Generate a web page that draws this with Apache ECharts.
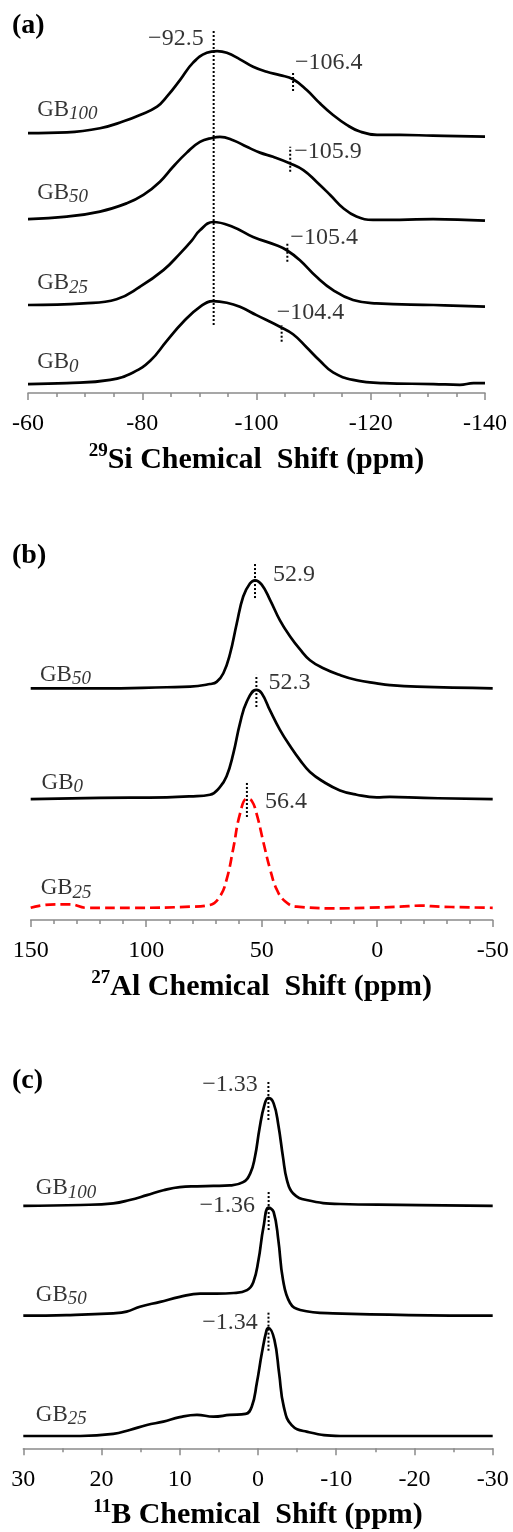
<!DOCTYPE html>
<html><head><meta charset="utf-8">
<script src="https://cdn.jsdelivr.net/npm/echarts/dist/echarts.min.js"></script>
<style>html,body{margin:0;padding:0;background:#fff}#c{width:513px;height:1532px}</style>
</head><body><div id="c"></div>
<script>
// ---------------- DATA ----------------
// Panel (a): 29Si MAS NMR, ppm and relative intensity (peak = 100)
const siGB100Ppm = [-60,-66.8,-72.6,-76.6,-79.6,-82.6,-84.3,-86.6,-88.9,-91.3,-93.1,-94.8,-97.1,-99.4,-101.8,-104.1,-106.4,-108.8,-111.1,-113.4,-115.8,-118.1,-121.1,-125.1,-130.9,-140];
const siGB100Int = [1,2,7,15,23,33,45,65,86,98,100,98,90,81,75,71,66,53,37,23,11,3,-1,-1,-2,-3];
const siGB50Ppm = [-60,-66.8,-72.6,-77.3,-80.2,-83.1,-85.4,-87.8,-90.1,-92.4,-93.6,-95.9,-98.3,-100.6,-102.9,-105.9,-108.2,-110.5,-112.9,-115.2,-117.5,-120.4,-125.1,-130.9,-140];
const siGB50Int = [0,3,9,19,29,45,63,80,93,98,99,95,87,80,75,67,59,45,29,13,3,-1,-1,0,-2];
const siGB25Ppm = [-60,-69.7,-75.5,-79.6,-83.7,-86.6,-88.7,-90.1,-92.4,-95.9,-99.4,-103.5,-105.3,-107.6,-110.5,-113.4,-116.9,-121.0,-131.0,-140];
const siGB25Int = [0,2,7,22,42,62,78,90,100,94,82,72,66,54,34,18,6,2,0,-2];
const siGB0Ppm = [-60,-66.8,-74.4,-78.4,-81.4,-84.3,-87.2,-90.1,-92.4,-94.8,-97.1,-100.0,-104.1,-106.4,-108.8,-111.1,-113.4,-116.9,-122.2,-131.0,-135.6,-138.0,-140];
const siGB0Int = [0,1,5,14,28,52,75,93,100,98,93,83,69,60,44,28,14,5,1,0,-1,1,1];
const siPeakMain = -92.5;
const siShoulders = [-106.4, -105.9, -105.4, -104.4]; // GB100, GB50, GB25, GB0

// Panel (b): 27Al
const alGB50Ppm = [150,120,91.1,81.0,72.4,69.5,66.6,63.7,60.8,58.0,55.1,52.9,50.0,46.4,42.1,37.7,33.4,29.1,23.3,16.1,8.9,0.2,-5.5,-17.1,-50];
const alGB50Int = [0,0,1,1.5,4,6,14,32,60,85,97,100,96,82,63,48,36,26,18.6,12.3,7.7,4.6,3,1.5,0];
const alGB0Ppm = [150,120,91.1,81.0,72.4,68.1,65.2,62.3,59.4,56.5,52.3,50.0,46.4,42.1,37.7,33.4,29.1,23.3,16.1,8.9,0.2,-5.5,-20,-50];
const alGB0Int = [-1,0,0.6,1.5,3,10,20,41,69,89,100,97,81,63,48,35,24,15,7,3,0.6,1,0,-1];
const alGB25Ppm = [150,141.6,133,125.8,105.6,81.0,72.4,68.1,65.2,62.3,59.4,56.4,54.3,52.2,49.3,46.4,43.5,39.9,34.8,16.1,4.5,-9.9,-18.6,-27.2,-50];
const alGB25Int = [-1,2,2.2,-1,-1,0,1.6,9.5,25,54,86,100,98,86,60,35,16,5,0,-1.5,-1,0,1,0,-1];
const alPeaks = [52.9, 52.3, 56.4]; // GB50, GB0, GB25

// Panel (c): 11B
const bGB100Ppm = [30,22.7,18.5,16.4,14.2,12.1,10.0,7.8,5.7,3.6,1.9,1.0,0.4,-0.2,-0.8,-1.33,-2.0,-2.6,-3.2,-3.7,-4.5,-6.2,-10.5,-18.1,-30];
const bGB100Int = [0,0.9,2.4,5.5,10,14.5,17.5,18.2,18.5,19,22,30,45,72,93,100,95,75,45,24,11.5,5.5,1.8,1,0];
const bGB50Ppm = [30,24.5,18.5,16.8,15.1,12.5,10.0,7.4,5.3,3.1,1.4,0.6,-0.05,-0.7,-1.36,-2.0,-2.6,-3.2,-4.1,-5.4,-9.6,-30];
const bGB50Int = [0,0.6,2.2,3.7,8.3,12.8,17.4,20.5,20.5,21,23.7,31,51,82,100,96,70,33,11.7,5.3,2.2,0];
const bGB25Ppm = [30,22.7,18.5,16.4,14.2,12.1,10.0,7.8,5.7,3.6,1.6,0.8,0.15,-0.5,-1.1,-1.34,-2.1,-2.7,-3.3,-4.3,-6.2,-10.5,-30];
const bGB25Int = [0,0,1.9,5.6,10.2,13.3,17.4,19.5,17.9,19.5,20.4,27,49,77,98,100,89,58,27,10,4,0,0];
const bPeaks = [-1.33, -1.36, -1.34]; // GB100, GB50, GB25

// ---------------- LAYOUT ----------------
const FONT = "'Liberation Serif','Times New Roman',Times,serif";
const AXIS_GREY = '#8a8a8a';
const fmtNum = (v, d) => (v < 0 ? '\u2212' : '') + Math.abs(v).toFixed(d);

function spec(g, ppm, inten, off, color, type) {
  return {type:'line', xAxisIndex:g, yAxisIndex:g, data: ppm.map((p,i)=>[p, inten[i]+off]),
    symbol:'none', showSymbol:false, smooth:0.45, silent:true, z:3,
    lineStyle:{color:color||'#000', width:2.7, type:type||'solid', join:'round'}};
}
function dotted(g, x, y1, y2) {
  return {type:'line', xAxisIndex:g, yAxisIndex:g, data:[[x,y1],[x,y2]], symbol:'none', silent:true, z:4,
    lineStyle:{color:'#000', width:2, type:[2,2]}};
}
function texts(g, items) {
  return {type:'scatter', xAxisIndex:g, yAxisIndex:g, symbolSize:0, silent:true, z:5,
    data: items.map(it => ({value:[it.x, it.y], label:{show:true, formatter:it.t, position:it.pos||'right',
      distance:it.d||0, offset:it.off||[0,0], fontSize:24, fontFamily:FONT, color:'#000',
      rich:{m:{fontSize:23, fontFamily:FONT, color:'#000', lineHeight:28},
            s:{fontSize:19, fontFamily:FONT, fontStyle:'italic', color:'#000', lineHeight:18, verticalAlign:'bottom'}}}}))};
}
const gb = n => '{m|GB}{s|' + n + '}';

// offsets (stacking) in intensity units
const offA = {GB100:312, GB50:209.6, GB25:106, GB0:10.8};
const offB = {GB50:214.5, GB0:113, GB25:12.3};
const offC = {GB100:224.4, GB50:122.8, GB25:11.4};

function xAxisDef(g, min, max, interval, minorSplit, nameLabel, sup) {
  return {gridIndex:g, type:'value', inverse:true, min:min, max:max, interval:interval,
    axisLine:{show:true, onZero:false, lineStyle:{color:AXIS_GREY, width:1.5}},
    axisTick:{show:true, length:7, lineStyle:{color:AXIS_GREY, width:1.5}},
    minorTick:{show:true, splitNumber:minorSplit, length:4, lineStyle:{color:AXIS_GREY, width:1.5}},
    splitLine:{show:false}, minorSplitLine:{show:false},
    axisLabel:{fontSize:24, fontFamily:FONT, color:'#000', margin:19},
    name:'{sup|' + sup + '}{t|' + nameLabel + '}', nameLocation:'middle', nameGap:49,
    nameTextStyle:{rich:{
      t:{fontSize:30, fontWeight:'bold', fontFamily:FONT, color:'#000', lineHeight:36},
      sup:{fontSize:19, fontWeight:'bold', fontFamily:FONT, color:'#000', lineHeight:19, verticalAlign:'top'}}}
  };
}

const option = {
  animation:false,
  backgroundColor:'#fff',
  title:[
    {text:'(a)', left:12, top:12, padding:0, textStyle:{fontFamily:FONT, fontSize:28, fontWeight:'bold', color:'#000'}},
    {text:'(b)', left:12, top:542, padding:0, textStyle:{fontFamily:FONT, fontSize:28, fontWeight:'bold', color:'#000'}},
    {text:'(c)', left:12, top:1067, padding:0, textStyle:{fontFamily:FONT, fontSize:28, fontWeight:'bold', color:'#000'}}
  ],
  grid:[
    {left:28, width:457, top:20, height:373},
    {left:30.7, width:462, top:530, height:390},
    {left:23.3, width:469.4, top:1050, height:398.3}
  ],
  xAxis:[
    xAxisDef(0, -140, -60, 20, 4, 'Si Chemical  Shift (ppm)', '29'),
    xAxisDef(1, -50, 150, 50, 5, 'Al Chemical  Shift (ppm)', '27'),
    xAxisDef(2, -30, 30, 10, 2, 'B Chemical  Shift (ppm)', '11')
  ],
  yAxis:[
    {gridIndex:0, type:'value', min:0, max:449.4, show:false},
    {gridIndex:1, type:'value', min:0, max:361.1, show:false},
    {gridIndex:2, type:'value', min:0, max:368.8, show:false}
  ],
  series:[
    // panel a
    spec(0, siGB100Ppm, siGB100Int, offA.GB100),
    spec(0, siGB50Ppm, siGB50Int, offA.GB50),
    spec(0, siGB25Ppm, siGB25Int, offA.GB25),
    spec(0, siGB0Ppm, siGB0Int, offA.GB0),
    dotted(0, siPeakMain, 82, 438.6),
    dotted(0, siShoulders[0], offA.GB100+52, offA.GB100+75),
    dotted(0, siShoulders[1], offA.GB50+57, offA.GB50+87),
    dotted(0, siShoulders[2], offA.GB25+52, offA.GB25+75),
    dotted(0, siShoulders[3], offA.GB0+51, offA.GB0+71),
    texts(0, [
      {x:siPeakMain, y:426.5, t:fmtNum(siPeakMain,1), pos:'left', d:10},
      {x:siShoulders[0], y:397.6, t:fmtNum(siShoulders[0],1), d:2},
      {x:siShoulders[1], y:290.4, t:fmtNum(siShoulders[1],1), d:4},
      {x:siShoulders[2], y:186.7, t:fmtNum(siShoulders[2],1), d:3},
      {x:siShoulders[3], y:96.4, t:fmtNum(siShoulders[3],1), d:0, off:[-5,0]},
      {x:-61.6, y:341, t:gb('100')},
      {x:-61.6, y:241, t:gb('50')},
      {x:-61.6, y:132.5, t:gb('25')},
      {x:-61.6, y:37.3, t:gb('0')}
    ]),
    // panel b
    spec(1, alGB50Ppm, alGB50Int, offB.GB50),
    spec(1, alGB0Ppm, alGB0Int, offB.GB0),
    spec(1, alGB25Ppm, alGB25Int, offB.GB25, '#ff0000', [10,5]),
    dotted(1, alPeaks[0], 298.1, 330.6),
    dotted(1, alPeaks[1], 197.2, 226.9),
    dotted(1, alPeaks[2], 95.4, 126.9),
    texts(1, [
      {x:alPeaks[0], y:319.4, t:fmtNum(alPeaks[0],1), d:18},
      {x:alPeaks[1], y:219.4, t:fmtNum(alPeaks[1],1), d:12},
      {x:alPeaks[2], y:109.3, t:fmtNum(alPeaks[2],1), d:18},
      {x:146, y:226.9, t:gb('50')},
      {x:145.3, y:126.9, t:gb('0')},
      {x:145.7, y:29.6, t:gb('25')}
    ]),
    // panel c
    spec(2, bGB100Ppm, bGB100Int, offC.GB100),
    spec(2, bGB50Ppm, bGB50Int, offC.GB50),
    spec(2, bGB25Ppm, bGB25Int, offC.GB25),
    dotted(2, bPeaks[0], 304, 341),
    dotted(2, bPeaks[1], 202.1, 239.2),
    dotted(2, bPeaks[2], 90.4, 126.5),
    texts(2, [
      {x:bPeaks[0], y:336.4, t:fmtNum(bPeaks[0],2), pos:'left', d:10.7},
      {x:bPeaks[1], y:224.4, t:fmtNum(bPeaks[1],2), pos:'left', d:13.7},
      {x:bPeaks[2], y:116, t:fmtNum(bPeaks[2],2), pos:'left', d:10.7},
      {x:28.4, y:241, t:gb('100')},
      {x:28.4, y:142, t:gb('50')},
      {x:28.4, y:31, t:gb('25')}
    ])
  ]
};
const chart = echarts.init(document.getElementById('c'), null, {renderer:'canvas'});
chart.setOption(option);
</script></body></html>
